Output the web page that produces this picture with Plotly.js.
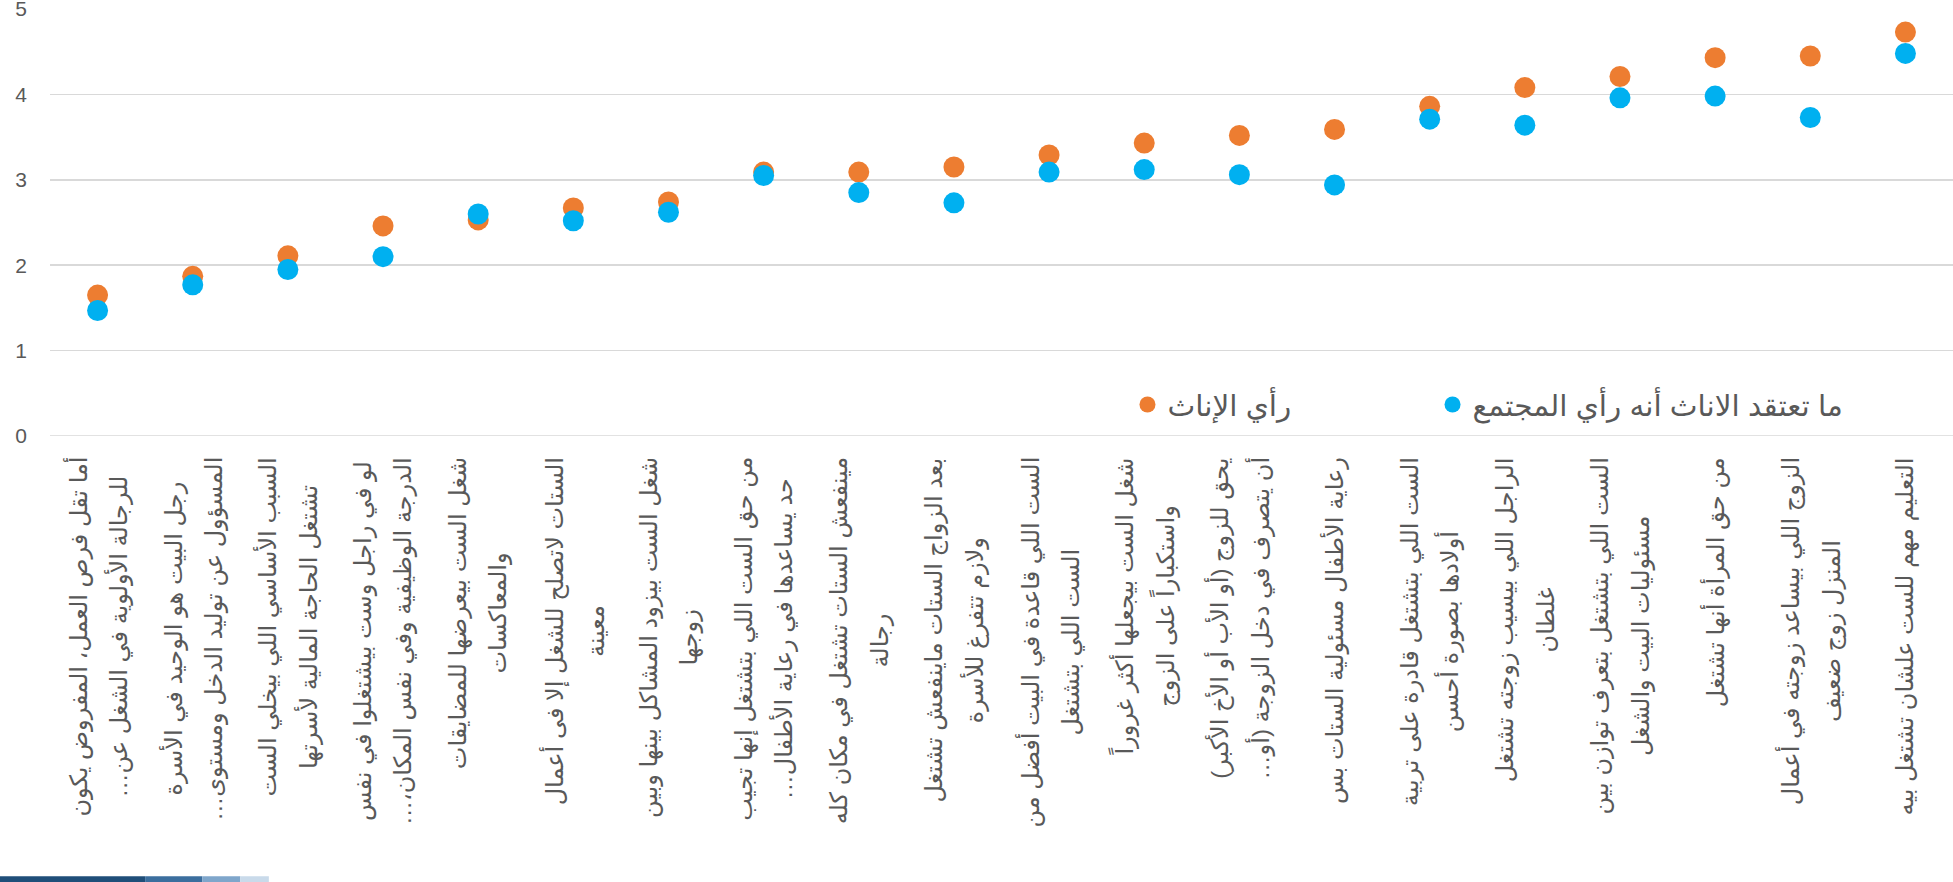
<!DOCTYPE html>
<html>
<head>
<meta charset="utf-8">
<script src="https://cdn.plot.ly/plotly-3.0.1.min.js"></script>
<style>html,body{margin:0;padding:0;background:#fff;}#chart{width:1953px;height:882px;}</style>
</head>
<body>
<div id="chart"></div>
<script>
// Category ids and their wrapped label lines
const categories = [
  "c01","c02","c03","c04","c05","c06","c07","c08","c09","c10",
  "c11","c12","c13","c14","c15","c16","c17","c18","c19","c20"
];
const categoryLabels = [
  ["أما تقل فرص العمل، المفروض يكون", "للرجالة الأولوية في الشغل عن…"],
  ["رجل البيت هو الوحيد في الأسرة", "المسؤول عن توليد الدخل ومستوى…"],
  ["السبب الأساسي اللي بيخلي الست", "تشتغل الحاجة المالية لأسرتها"],
  ["لو في راجل وست بيشتغلوا في نفس", "الدرجة الوظيفية وفي نفس المكان،…"],
  ["شغل الست بيعرضها للمضايقات", "والمعاكسات"],
  ["الستات لاتصلح للشغل إلا فى أعمال", "معينة"],
  ["شغل الست بيزود المشاكل بينها وبين", "زوجها"],
  ["من حق الست اللي بتشتغل إنها تجيب", "حد يساعدها في رعاية الأطفال…"],
  ["مينفعش الستات تشتغل في مكان كله", "رجالة"],
  ["بعد الزواج الستات ماينفعش تشتغل", "ولازم تتفرغ للأسرة"],
  ["الست اللي قاعدة في البيت أفضل من", "الست اللي بتشتغل"],
  ["شغل الست بيجعلها أكثر غروراً", "واستكباراً على الزوج"],
  ["يحق للزوج (أو الأب أو الأخ الأكبر)", "أن يتصرف في دخل الزوجة (أو…"],
  ["رعاية الأطفال مسئولية الستات بس"],
  ["الست اللي بتشتغل قادرة على تربية", "أولادها بصورة أحسن"],
  ["الراجل اللي بيسيب زوجته تشتغل", "غلطان"],
  ["الست اللي بتشتغل بتعرف توازن بين", "مسئوليات البيت والشغل"],
  ["من حق المرأة أنها تشتغل"],
  ["الزوج اللي بيساعد زوجته في أعمال", "المنزل زوج ضعيف"],
  ["التعليم مهم للست علشان تشتغل بيه"]
];
const femaleOpinion = [1.65, 1.87, 2.11, 2.46, 2.53, 2.67, 2.74, 3.09, 3.09, 3.15, 3.29, 3.43, 3.52, 3.59, 3.86, 4.08, 4.21, 4.43, 4.45, 4.73];
const perceivedSociety = [1.47, 1.77, 1.95, 2.10, 2.60, 2.52, 2.62, 3.05, 2.85, 2.73, 3.09, 3.12, 3.06, 2.94, 3.71, 3.64, 3.96, 3.98, 3.73, 4.48];
const seriesNames = ["رأي الإناث", "ما تعتقد الاناث أنه رأي المجتمع"];
const yTicks = [0, 1, 2, 3, 4, 5];

const FONT = "Liberation Sans, DejaVu Sans, Arial, sans-serif";
const TXT = "#595959";
const RLM = "\u200F";

const traces = [
  {type: "scatter", mode: "markers", name: seriesNames[0], x: categories, y: femaleOpinion,
   marker: {color: "#ED7D31", size: 21}, cliponaxis: false, legend: "legend"},
  {type: "scatter", mode: "markers", name: seriesNames[1], x: categories, y: perceivedSociety,
   marker: {color: "#00B0F0", size: 21}, cliponaxis: false, legend: "legend2"}
];

const labelAnnotations = categories.map((c, i) => ({
  x: c, xref: "x", y: 0, yref: "paper", yshift: -20,
  xanchor: "center", yanchor: "top", textangle: -90, align: "center",
  showarrow: false, borderpad: 0,
  font: {family: FONT, size: 31, color: TXT},
  text: categoryLabels[i].map(l => '<span style="font-size:24px">' + RLM + l + RLM + '</span>').join("<br>")
}));

const legendCommon = {orientation: "h", xanchor: "left", y: 0.073, yanchor: "middle",
  font: {size: 29.5, color: TXT, family: FONT}, bgcolor: "rgba(0,0,0,0)", itemclick: false};

const layout = {
  width: 1953, height: 882,
  margin: {l: 50, r: 0, t: 9, b: 446},
  paper_bgcolor: "#ffffff", plot_bgcolor: "#ffffff",
  font: {family: FONT, color: TXT},
  showlegend: true,
  legend: Object.assign({x: 0.5662}, legendCommon),
  legend2: Object.assign({x: 0.7265}, legendCommon),
  xaxis: {type: "category", categoryarray: categories, range: [-0.5, 19.5], showgrid: false, zeroline: false,
          showline: false, ticks: "", showticklabels: false},
  yaxis: {range: [0, 5], tickvals: yTicks, showgrid: true, gridcolor: "#D9D9D9", gridwidth: 1.5,
          zeroline: false, showline: false, ticks: "", tickfont: {size: 21, color: TXT, family: FONT},
          ticklabelstandoff: 22, ticklabeloverflow: "allow"},
  annotations: labelAnnotations,
  shapes: [
    {type: "line", xref: "paper", yref: "y", x0: 0, x1: 1, y0: 0, y1: 0, line: {color: "#D9D9D9", width: 1.5}, layer: "below"},
    {type: "rect", xref: "paper", yref: "paper", x0: -0.0263, x1: 0.05, y0: -1.031, y1: -1.05, line: {width: 0}, fillcolor: "#1F4E79"},
    {type: "rect", xref: "paper", yref: "paper", x0: 0.05, x1: 0.08, y0: -1.031, y1: -1.05, line: {width: 0}, fillcolor: "#3B6E9E"},
    {type: "rect", xref: "paper", yref: "paper", x0: 0.08, x1: 0.1, y0: -1.031, y1: -1.05, line: {width: 0}, fillcolor: "#7FA6CB"},
    {type: "rect", xref: "paper", yref: "paper", x0: 0.1, x1: 0.115, y0: -1.031, y1: -1.05, line: {width: 0}, fillcolor: "#C9DAEA"}
  ]
};

Plotly.newPlot("chart", traces, layout, {displayModeBar: false, staticPlot: true});
</script>
</body>
</html>
